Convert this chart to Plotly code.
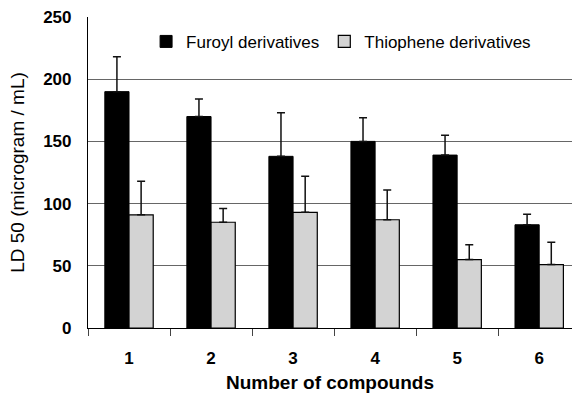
import plotly.graph_objects as go

categories = ["1", "2", "3", "4", "5", "6"]
furoyl = [190, 170, 138, 150, 139, 83]
furoyl_err = [28, 14, 35, 19, 16, 8.5]
thiophene = [91, 85, 93, 87, 55, 51]
thiophene_err = [27, 11, 29, 24, 12, 18]
y_ticks = [0, 50, 100, 150, 200, 250]

FONT = "Liberation Sans, Arial, sans-serif"

fig = go.Figure()
fig.add_trace(go.Bar(
    name="Furoyl derivatives", x=categories, y=furoyl,
    marker=dict(color="black", line=dict(color="black", width=1)),
    error_y=dict(type="data", array=furoyl_err, arrayminus=[0]*6, symmetric=False,
                 color="#111", thickness=1.5, width=4),
))
fig.add_trace(go.Bar(
    name="Thiophene derivatives", x=categories, y=thiophene,
    marker=dict(color="#d3d3d3", line=dict(color="black", width=1.2)),
    error_y=dict(type="data", array=thiophene_err, arrayminus=[0]*6, symmetric=False,
                 color="#111", thickness=1.5, width=4),
))

fig.update_layout(
    width=572, height=395,
    margin=dict(l=88, r=0, t=17, b=67),
    paper_bgcolor="white", plot_bgcolor="white",
    barmode="group", bargap=0.41, bargroupgap=0,
    font=dict(family=FONT, color="black"),
    legend=dict(orientation="h", x=0.12, y=0.92, xanchor="left", yanchor="middle",
                font=dict(size=17, family=FONT), bgcolor="rgba(0,0,0,0)",
                itemwidth=30, tracegroupgap=0),
    showlegend=True,
)
fig.update_xaxes(
    range=[-0.5, 5.4], showline=True, linecolor="black", linewidth=1.2,
    ticks="outside", ticklen=7, tickcolor="#444", tickson="boundaries",
    ticklabelstandoff=14,
    tickfont=dict(size=17, family=FONT, weight="bold"),
    title=dict(text="<b>Number of compounds</b>", font=dict(size=19, family=FONT), standoff=9),
    showgrid=False,
)
fig.update_yaxes(
    range=[0, 250], tickvals=y_ticks, showline=True, linecolor="black", linewidth=1.2,
    ticks="", ticklabelstandoff=12,
    tickfont=dict(size=17, family=FONT, weight="bold"),
    gridcolor="#666", gridwidth=1, zeroline=False,
    title=dict(text="LD 50 (microgram / mL)", font=dict(size=19, family=FONT), standoff=13),
)

fig.write_html("out.html")
